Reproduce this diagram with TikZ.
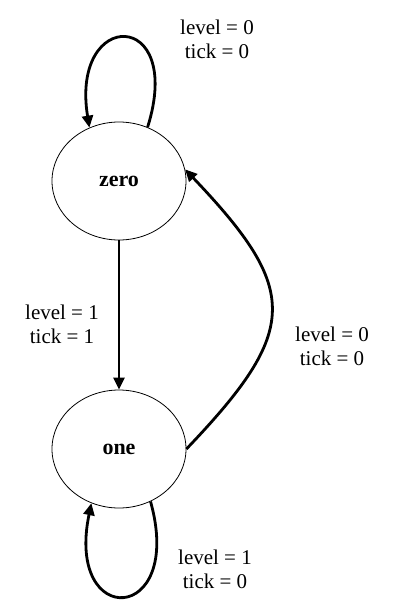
\documentclass[tikz,border=0pt]{standalone}
\usepackage{fontspec}
\setmainfont{Liberation Serif}
\usetikzlibrary{shapes.geometric, arrows.meta, positioning}
\tikzset{
  statenode/.style={ellipse, draw=black, line width=0.8pt, minimum width=134pt, minimum height=118pt, inner sep=0pt, font=\fontsize{22}{24}\selectfont\bfseries},
  labelnode/.style={align=center, font=\fontsize{21}{24}\selectfont},
  arrow/.style={-{Triangle[length=12pt,width=11pt]}, line width=2.8pt, black}
}
\begin{document}
\begin{tikzpicture}[x=1pt, y=-1pt]
  \useasboundingbox (0,0) rectangle (401,605);
  % States
  \node[statenode] (zero) at (119,181) {zero};
  \node[statenode] (one) at (119,449) {one};

  % Transitions
  \draw[arrow] (zero.62) .. controls (185,8) and (70,8) .. (zero.119);
  \draw[arrow] (zero.south) -- (one.north);
  \draw[arrow] (one.east) .. controls (300,330) and (300,290) .. (zero.10);
  \draw[arrow] (one.-59) .. controls (185,625) and (65,630) .. (one.-117);

  % Labels
  \node[labelnode] (lbltop) at (217,39) {level = 0\\tick = 0};
  \node[labelnode] (lblleft) at (62,324) {level = 1\\tick = 1};
  \node[labelnode] (lblright) at (332,346) {level = 0\\tick = 0};
  \node[labelnode] (lblbottom) at (215,569) {level = 1\\tick = 0};
\end{tikzpicture}
\end{document}
